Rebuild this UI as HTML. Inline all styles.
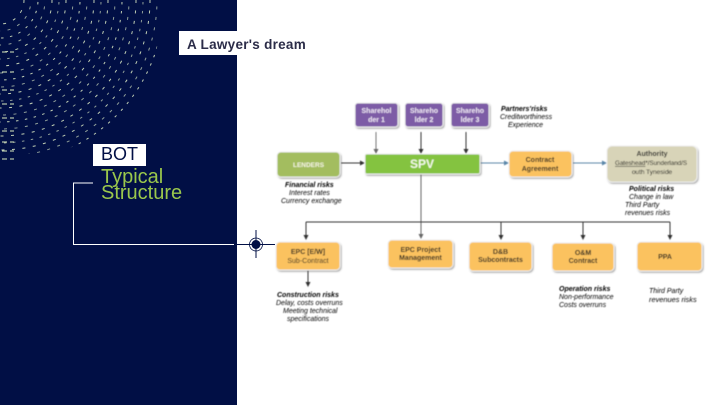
<!DOCTYPE html>
<html lang="en"><head><meta charset="utf-8"><title>BOT Typical Structure</title>
<style>
html,body{margin:0;padding:0;background:#fff;width:720px;height:405px;overflow:hidden}
svg{display:block}
text{font-family:"Liberation Sans",sans-serif}
.d{filter:url(#b)}
.t{font-size:7px;text-anchor:middle;fill:#222;font-weight:bold}
.w{font-size:7px;text-anchor:middle;fill:#eee6f4;font-weight:bold}
.r{font-size:7px;text-anchor:middle;fill:#000}
.ri{font-size:7px;font-style:italic;fill:#000}
.dots circle{fill:none;stroke:#e2f0c8;stroke-width:1;stroke-dasharray:3 7.5}
.dots circle:nth-child(2n){stroke-dashoffset:4;opacity:.75}
.dots circle:nth-child(3n){stroke-dashoffset:7;stroke-dasharray:2.5 6.5}
.ticks path{stroke:#dcebc0;stroke-width:1;fill:none;stroke-dasharray:5 3}
</style></head><body>
<svg width="720" height="405" viewBox="0 0 720 405" xmlns="http://www.w3.org/2000/svg">
<defs>
<clipPath id="c"><circle cx="30" cy="25" r="129"/></clipPath>
<filter id="b" x="-5%" y="-5%" width="110%" height="110%"><feGaussianBlur stdDeviation="0.4"/></filter>
<filter id="s" x="-10%" y="-10%" width="125%" height="130%"><feDropShadow dx="1" dy="1.2" stdDeviation="0.8" flood-color="#555" flood-opacity=".55"/></filter>
<marker id="a" markerWidth="5" markerHeight="5" refX="4" refY="2.5" orient="auto"><path d="M0 0L5 2.5L0 5z" fill="#333"/></marker>
<marker id="g" markerWidth="5" markerHeight="5" refX="4" refY="2.5" orient="auto"><path d="M0 0L5 2.5L0 5z" fill="#666"/></marker>
<marker id="bl" markerWidth="5" markerHeight="5" refX="4" refY="2.5" orient="auto"><path d="M0 0L5 2.5L0 5z" fill="#5a86a8"/></marker>
</defs>
<rect x="0" y="0" width="237" height="405" fill="#010f45"/>
<g class="dots" clip-path="url(#c)" opacity=".85">
<circle r="24"/><circle r="31"/><circle r="38"/><circle r="45"/><circle r="52"/><circle r="59"/><circle r="66"/><circle r="73"/><circle r="80"/><circle r="87"/><circle r="94"/><circle r="101"/><circle r="108"/><circle r="115"/><circle r="122"/><circle r="129"/><circle r="136"/><circle r="143"/><circle r="150"/><circle r="157"/><circle r="164"/>
</g>
<g class="ticks">
<path d="M2 52H14M2 72H14M2 90H14M2 104H14M2 118H14M2 131H14M2 142H14M2 151H14M2 159H14"/>
</g>
<rect x="179" y="31" width="131" height="24" fill="#fff"/>
<text x="187" y="49" font-size="13.500" font-weight="bold" fill="#2b2c48" letter-spacing=".28">A Lawyer's dream</text>
<rect x="93" y="144" width="53" height="22" fill="#fff"/>
<text x="101" y="160" font-size="18" fill="#010f45">BOT</text>
<text x="101" y="183" font-size="20" fill="#9ac74c">Typical</text>
<text x="101" y="199" font-size="20" fill="#9ac74c">Structure</text>
<path d="M93 183H73.500V244.500H234" fill="none" stroke="#fff" stroke-width="1"/>
<path d="M236 244.500H275M256 230V258" stroke="#010f45" stroke-width="1" fill="none"/>
<circle cx="256" cy="244.500" r="6.500" fill="none" stroke="#010f45" stroke-width=".8"/>
<circle cx="256" cy="244.500" r="4.500" fill="#010f45"/>
<g class="d">
<g fill="none" stroke-width="1">
<path d="M376 132V153" stroke="#777" marker-end="url(#g)"/>
<path d="M421 132V153" stroke="#333" marker-end="url(#a)"/>
<path d="M466 132V153" stroke="#333" marker-end="url(#a)"/>
<path d="M341 163H364" stroke="#333" marker-end="url(#a)"/>
<path d="M480 163H508" stroke="#5a86a8" marker-end="url(#bl)"/>
<path d="M573 163H606" stroke="#5a86a8" marker-end="url(#bl)"/>
<path d="M421 174V238" stroke="#666" marker-end="url(#g)"/>
<path d="M306 222H670" stroke="#333"/>
<path d="M306 222V239" stroke="#333" marker-end="url(#a)"/>
<path d="M501 222V239" stroke="#333" marker-end="url(#a)"/>
<path d="M583 222V239" stroke="#333" marker-end="url(#a)"/>
<path d="M670 222V239" stroke="#333" marker-end="url(#a)"/>
<path d="M308 270V286" stroke="#333" marker-end="url(#a)"/>
</g>
<g stroke="#eee" stroke-width="1" filter="url(#s)">
<rect x="355" y="103" width="43" height="24" rx="3" fill="#7d5ba6"/>
<rect x="405" y="103" width="38" height="24" rx="3" fill="#7d5ba6"/>
<rect x="451" y="103" width="38" height="24" rx="3" fill="#7d5ba6"/>
<rect x="277" y="152" width="63" height="25" rx="4" fill="#a3bd5f"/>
<rect x="365" y="154" width="115" height="20" rx="2" fill="#84c341"/>
<rect x="509" y="151" width="63" height="26" rx="4" fill="#fbc25e"/>
<rect x="607" y="146" width="90" height="36" rx="5" fill="#d8d4b8"/>
<rect x="276" y="242" width="64" height="28" rx="4" fill="#fbc25e"/>
<rect x="388" y="240" width="65" height="28" rx="4" fill="#fbc25e"/>
<rect x="469" y="242" width="63" height="29" rx="4" fill="#fbc25e"/>
<rect x="552" y="243" width="62" height="28" rx="4" fill="#fbc25e"/>
<rect x="637" y="242" width="65" height="29" rx="4" fill="#fbc25e"/>
</g>
<text class="w" x="376.500" y="113">Sharehol</text><text class="w" x="376.500" y="122">der 1</text>
<text class="w" x="424" y="113">Shareho</text><text class="w" x="424" y="122">lder 2</text>
<text class="w" x="470" y="113">Shareho</text><text class="w" x="470" y="122">lder 3</text>
<text class="w" x="308.500" y="167" style="font-size:6.500px;fill:#f4f4e0">LENDERS</text>
<text x="422" y="168" font-size="12" font-weight="bold" fill="#f2f8e6" text-anchor="middle">SPV</text>
<text class="t" x="540" y="162">Contract</text><text class="t" x="540" y="171">Agreement</text>
<text class="t" x="652" y="156">Authority</text>
<text class="r" x="651" y="165" style="font-size:6.200px"><tspan text-decoration="underline">Gateshead</tspan>*/Sunderland/S</text>
<text class="r" x="652" y="174" style="font-size:6.500px">outh Tyneside</text>
<text class="t" x="308" y="254">EPC [E/W]</text><text class="t" x="308" y="263" style="font-weight:normal">Sub-Contract</text>
<text class="t" x="420.500" y="252">EPC Project</text><text class="t" x="420.500" y="260">Management</text>
<text class="t" x="500.500" y="254">D&amp;B</text><text class="t" x="500.500" y="262">Subcontracts</text>
<text class="t" x="583" y="255">O&amp;M</text><text class="t" x="583" y="263">Contract</text>
<text class="t" x="665" y="259">PPA</text>
<text class="ri" x="501" y="111" font-weight="bold">Partners'risks</text>
<text class="ri" x="500" y="119">Creditworthiness</text>
<text class="ri" x="508" y="127">Experience</text>
<text class="ri" x="285" y="187" font-weight="bold">Financial risks</text>
<text class="ri" x="289" y="195">Interest rates</text>
<text class="ri" x="281" y="203">Currency exchange</text>
<text class="ri" x="629" y="191" font-weight="bold">Political risks</text>
<text class="ri" x="629" y="199">Change in law</text>
<text class="ri" x="625" y="207">Third Party</text>
<text class="ri" x="625" y="215">revenues risks</text>
<text class="ri" x="277" y="297" font-weight="bold">Construction risks</text>
<text class="ri" x="276" y="305">Delay, costs overruns</text>
<text class="ri" x="283" y="313">Meeting technical</text>
<text class="ri" x="287" y="321">specifications</text>
<text class="ri" x="559" y="291" font-weight="bold">Operation risks</text>
<text class="ri" x="559" y="299">Non-performance</text>
<text class="ri" x="559" y="307">Costs overruns</text>
<text class="ri" x="649" y="293">Third Party</text>
<text class="ri" x="649" y="302" style="font-size:7.400px">revenues risks</text>
</g>
</svg>
</body></html>
